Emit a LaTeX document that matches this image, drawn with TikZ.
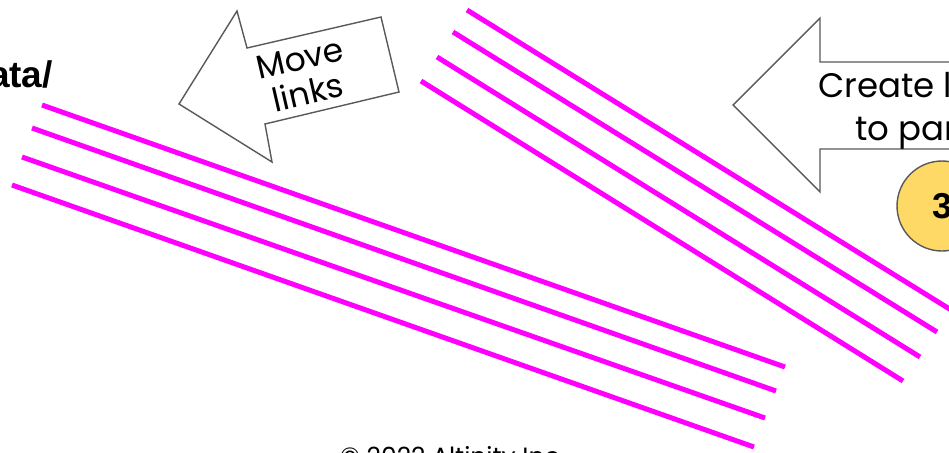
\documentclass[tikz,border=0pt]{standalone}
\usepackage{fontspec}
\setmainfont{Liberation Sans}
\newfontfamily\gfont{Poppins}
\definecolor{linkmag}{HTML}{FF00FF}
\definecolor{arrowgray}{HTML}{595959}
\definecolor{badgefill}{HTML}{FFD966}
\tikzset{
  link/.style={draw=linkmag, line width=5pt, line cap=butt},
  bigarrow/.style={draw=arrowgray, line width=1.4pt, fill=white, line join=miter},
  arrowtext/.style={font=\gfont\fontsize{34}{43}\selectfont, text=black, inner sep=0pt},
  movetext/.style={font=\gfont\fontsize{33}{35}\selectfont, text=black, inner sep=0pt, align=center},
  badge/.style={circle, draw=arrowgray, line width=1.4pt, fill=badgefill, minimum size=90pt, inner sep=0pt,
    font=\bfseries\fontsize{36}{40}\selectfont},
  heading/.style={font=\bfseries\fontsize{37}{40}\selectfont, inner sep=0pt},
  footer/.style={font=\gfont\fontsize{25}{30}\selectfont, text=black, inner sep=0pt}
}
\begin{document}
\begin{tikzpicture}[x=1pt,y=-1pt]
\useasboundingbox (0,0) rectangle (949,452);
\clip (0,0) rectangle (949,452);
% heading fragment
\node[heading, anchor=base east] (head) at (53,87) {ata/};
% left group of links
\draw[link] (42,105) -- (785,367);
\draw[link] (32,128) -- (776,391);
\draw[link] (22,157) -- (765,418);
\draw[link] (12,185) -- (754,447);
% right group of links
\draw[link] (467,10) -- (956,313);
\draw[link] (453,32) -- (937,332);
\draw[link] (437,57) -- (920,357);
\draw[link] (421,81) -- (903,381);
% Move links arrow
\draw[bigarrow] (179,104) -- (237,11) -- (247,48) -- (381,17) -- (399,92) -- (265,124) -- (272,162) -- cycle;
\node[movetext, rotate=13] (move) at (304,76) {Move\\links};
% Create links arrow
\draw[bigarrow] (733,105) -- (820,18) -- (820,62) -- (990,62) -- (990,149) -- (820,149) -- (820,192) -- cycle;
\node[arrowtext, anchor=base] (create1) at (918,97) {Create links};
\node[arrowtext, anchor=base] (create2) at (921,140) {to parts};
% badge
\node[badge] (three) at (942,206) {3};
% footer
\node[footer, anchor=base west] (foot) at (340,465) {© 2022 Altinity Inc.};
\end{tikzpicture}
\end{document}
